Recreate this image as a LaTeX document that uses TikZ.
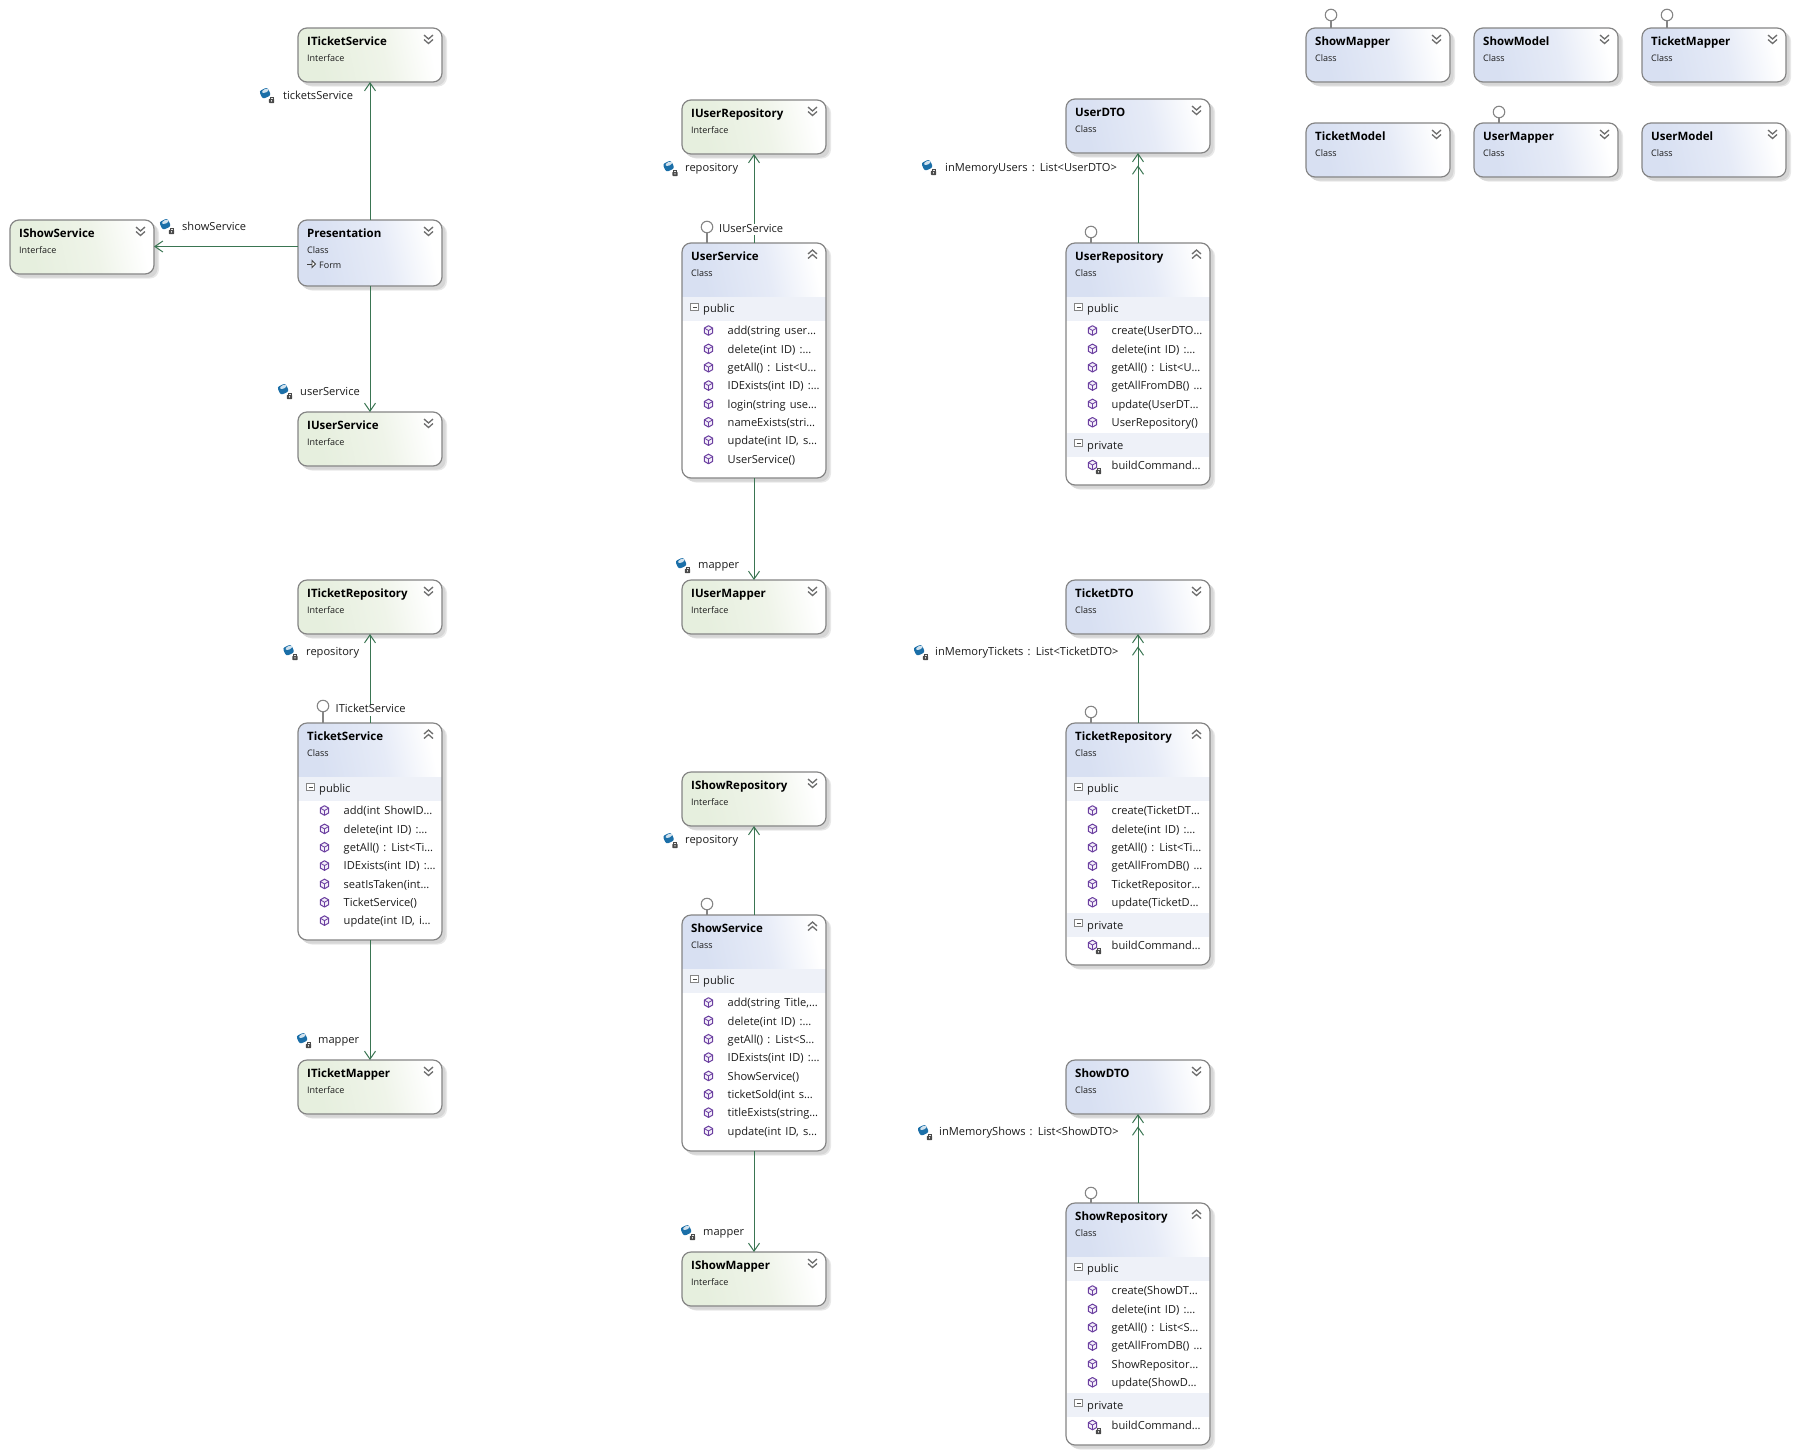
\documentclass[tikz,border=0pt]{standalone}
\usepackage{fontspec}
\setmainfont[WordSpace=1.45]{Open Sans}
\usetikzlibrary{arrows.meta,calc}
\definecolor{assoccol}{HTML}{3A7552}
\definecolor{edgecol}{HTML}{858585}
\definecolor{shadowcol}{HTML}{D6D6D6}
\definecolor{shadowcolb}{HTML}{E8E8E8}
\definecolor{bandcol}{HTML}{EEF1F8}
\definecolor{methodcol}{HTML}{6B3FA0}
\definecolor{methodfill}{HTML}{F3EEF9}
\definecolor{cubecol}{HTML}{1B6FA8}
\definecolor{lockcol}{HTML}{4A4A4A}
\definecolor{chevcol}{HTML}{6E6E6E}
\definecolor{txtcol}{HTML}{1C1C1C}
\definecolor{blueA}{HTML}{D8E0F2}
\definecolor{blueB}{HTML}{E6EBF7}
\definecolor{greenA}{HTML}{E6EFDE}
\definecolor{greenB}{HTML}{EFF4E9}
\pgfdeclarehorizontalshading{bluegrad}{100bp}{color(0bp)=(blueA); color(30bp)=(blueA); color(55bp)=(blueB); color(74bp)=(white); color(100bp)=(white)}
\pgfdeclarehorizontalshading{greengrad}{100bp}{color(0bp)=(greenA); color(30bp)=(greenA); color(55bp)=(greenB); color(74bp)=(white); color(100bp)=(white)}
\tikzset{
  umlbox/.style={draw=edgecol,line width=1.2pt,rounded corners=9pt,minimum width=144pt,inner sep=0pt,outer sep=0pt,anchor=north west},
  umltext/.style={inner sep=0pt,anchor=west,text height=8pt,text depth=2.5pt,text=txtcol},
  umltitle/.style={umltext,text=black,font=\fontsize{11.5}{14}\selectfont\bfseries},
  umlsub/.style={umltext,font=\fontsize{9}{10}\selectfont},
  umlmember/.style={umltext,font=\fontsize{11.1}{12}\selectfont},
  umllabel/.style={umltext,fill=white,text depth=3pt,font=\fontsize{11.1}{12}\selectfont},
  lolli/.style={circle,draw=edgecol,fill=white,line width=1.1pt,minimum size=11.5pt,inner sep=0pt,outer sep=0pt},
  stem/.style={draw=edgecol,line width=1.2pt},
  assoc/.style={draw=assoccol,line width=1pt,-{Straight Barb[length=8pt,width=11pt,line width=1pt]}},
  assocmany/.style={draw=assoccol,line width=1pt,-{Straight Barb[length=8pt,width=11pt,line width=1pt,sep=3pt] Straight Barb[length=8pt,width=11pt,line width=1pt]}},
  chev/.style={draw=chevcol,line width=1.3pt,line join=miter},
}
% chevrons
\newcommand\chevdown[2]{%
  \draw[chev] ({#1-4.5},{#2+7}) -- (#1,{#2+11}) -- ({#1+4.5},{#2+7});
  \draw[chev] ({#1-4.5},{#2+11.5}) -- (#1,{#2+15.5}) -- ({#1+4.5},{#2+11.5});}
\newcommand\chevup[2]{%
  \draw[chev] ({#1-4.5},{#2+11}) -- (#1,{#2+7}) -- ({#1+4.5},{#2+11});
  \draw[chev] ({#1-4.5},{#2+15.5}) -- (#1,{#2+11.5}) -- ({#1+4.5},{#2+15.5});}
% base of any box: shadow + fill
\newcommand\umlbase[4]{% x y h shading
  \fill[shadowcolb,rounded corners=9pt] ({#1+5},{#2+4}) rectangle ({#1+144+5},{#2+#3+4.5});
  \fill[shadowcol,rounded corners=9pt] ({#1+3},{#2+3}) rectangle ({#1+144+3.5},{#2+#3+3.5});
  \fill[white,rounded corners=9pt] (#1,#2) rectangle ({#1+144},{#2+#3});}
% collapsed: id x y h shading title subtitle
\newcommand\umlcollapsed[7]{%
  \umlbase{#2}{#3}{#4}{#5}
  \begin{scope}
    \clip[rounded corners=9pt] (#2,#3) rectangle ({#2+144},{#3+#4});
    \shade[shading=#5,shading angle=12] (#2,#3) rectangle ({#2+144},{#3+#4});
  \end{scope}
  \node[umlbox,minimum height=#4 pt] (#1) at (#2,#3) {};
  \node[umltitle] (#1-t) at ({#2+9},{#3+15}) {#6};
  \node[umlsub] (#1-s) at ({#2+9},{#3+30.3}) {#7};
  \chevdown{#2+130.5}{#3}}
% expanded with public only / + private: id x y h title pubmembers privmembers(or empty)
\newcommand\minusbox[2]{%
  \draw[edgecol,fill=white,line width=.9pt] ({#1-3.6},{#2-3.6}) rectangle ({#1+3.6},{#2+3.6});
  \draw[black!70,line width=1pt] ({#1-2},#2) -- ({#1+2},#2);}
\newcommand\methodicon[2]{%
  \draw[methodcol,fill=methodfill,line width=1pt,line join=round]
    ({#1},{#2-4.8}) -- ({#1+4.2},{#2-2.4}) -- ({#1+4.2},{#2+2.4}) -- ({#1},{#2+4.8}) -- ({#1-4.2},{#2+2.4}) -- ({#1-4.2},{#2-2.4}) -- cycle;
  \draw[methodcol,line width=.8pt] ({#1-4.2},{#2-2.4}) -- (#1,#2) -- ({#1+4.2},{#2-2.4}) (#1,#2) -- (#1,{#2+4.8});}
\newcommand\lockicon[2]{%
  \fill[lockcol,rounded corners=.6pt] ({#1-2.6},{#2-1.2}) rectangle ({#1+2.6},{#2+3});
  \draw[lockcol,line width=.9pt] ({#1-1.5},{#2-1}) -- ({#1-1.5},{#2-2.6}) -- ({#1+1.5},{#2-2.6}) -- ({#1+1.5},{#2-1});
  \fill[white] (#1,{#2+.9}) circle (.7pt);}
\newcommand\cubeicon[2]{%
  \fill[cubecol,rounded corners=2.4pt,rotate around={25:(#1,#2)}] ({#1-4.6},{#2-4.2}) rectangle ({#1+4.6},{#2+4.6});
  \fill[white!80!cubecol,rotate around={25:({#1+.4},{#2-2.2})}] ({#1+.4},{#2-2.2}) ellipse (3.6pt and 1.7pt);
  \lockicon{#1+6.5}{#2+7}}
\newcommand\umlexpanded[7]{%
  \umlbase{#2}{#3}{#4}{bluegrad}
  \begin{scope}
    \clip[rounded corners=9pt] (#2,#3) rectangle ({#2+144},{#3+#4});
    \shade[shading=bluegrad,shading angle=12] (#2,#3) rectangle ({#2+144},{#3+54});
    \fill[bandcol] (#2,{#3+54}) rectangle ({#2+144},{#3+78});
  \end{scope}
  \node[umlbox,minimum height=#4 pt] (#1) at (#2,#3) {};
  \node[umltitle] (#1-t) at ({#2+9},{#3+15}) {#5};
  \node[umlsub] (#1-s) at ({#2+9},{#3+30.3}) {Class};
  \chevup{#2+130.5}{#3}
  \minusbox{#2+12.5}{#3+64}
  \node[umlmember] (#1-pub) at ({#2+21},{#3+67.2}) {public};
  \foreach \m [count=\i, evaluate=\i as \yy using {#3+89+18.35*(\i-1)}] in {#6} {
    \methodicon{#2+26.5}{\yy-1.5}
    \node[umlmember] (#1-m\i) at ({#2+45.5},\yy) {\m};
  }
  #7}
\newcommand\umlprivate[4]{% id x y name(member)
  \begin{scope}
    \fill[bandcol] ({#2+.6},{#3+190}) rectangle ({#2+143.4},{#3+214});
  \end{scope}
  \minusbox{#2+12.5}{#3+200}
  \node[umlmember] (#1-priv) at ({#2+21},{#3+203.5}) {private};
  \methodicon{#2+26.5}{#3+222}
  \lockicon{#2+32.5}{#3+228}
  \node[umlmember] (#1-pm) at ({#2+45.5},{#3+224}) {#4};}
\newcommand\fieldlabel[6]{% id iconx icony textx texty text
  \cubeicon{#2}{#3}
  \node[umllabel] (#1) at (#4,{#5+1.3}) {#6};}
\newcommand\lollipop[4]{% id x y box
  \node[lolli] (#1) at (#2,#3) {};
  \draw[stem] (#1.south) -- (#1.south |- #4.north);}
\begin{document}
\begin{tikzpicture}[x=1pt,y=-1pt]
\useasboundingbox (0,0) rectangle (1795,1454);
\fill[white] (0,0) rectangle (1795,1454);

% top right classes
\umlcollapsed{ShowMapper}{1306}{28}{54}{bluegrad}{ShowMapper}{Class}
\umlcollapsed{ShowModel}{1474}{28}{54}{bluegrad}{ShowModel}{Class}
\umlcollapsed{TicketMapper}{1642}{28}{54}{bluegrad}{TicketMapper}{Class}
\umlcollapsed{TicketModel}{1306}{123}{54}{bluegrad}{TicketModel}{Class}
\umlcollapsed{UserMapper}{1474}{123}{54}{bluegrad}{UserMapper}{Class}
\umlcollapsed{UserModel}{1642}{123}{54}{bluegrad}{UserModel}{Class}

% first column
\umlcollapsed{ITicketService}{298}{28}{54}{greengrad}{ITicketService}{Interface}
\umlcollapsed{IShowService}{10}{220}{54}{greengrad}{IShowService}{Interface}
\umlcollapsed{Presentation}{298}{220}{66}{bluegrad}{Presentation}{Class}
\draw[black!75,line width=.9pt] (307,264) -- (313,264);
\draw[black!75,line width=.9pt,fill=white] (312,260.5) -- (315.5,264) -- (312,267.5) -- cycle;
\node[umlsub] (Presentation-f) at (319,265.5) {Form};
\umlcollapsed{IUserService}{298}{412}{54}{greengrad}{IUserService}{Interface}
\umlcollapsed{ITicketRepository}{298}{580}{54}{greengrad}{ITicketRepository}{Interface}
\umlexpanded{TicketService}{298}{723}{217}{TicketService}{add(int ShowID…,delete(int ID) :…,getAll() : List<Ti…,IDExists(int ID) :…,seatIsTaken(int…,TicketService(),{update(int ID, i…}}{}
\umlcollapsed{ITicketMapper}{298}{1060}{54}{greengrad}{ITicketMapper}{Interface}

% second column
\umlcollapsed{IUserRepository}{682}{100}{54}{greengrad}{IUserRepository}{Interface}
\umlexpanded{UserService}{682}{243}{235}{UserService}{add(string user…,delete(int ID) :…,getAll() : List<U…,IDExists(int ID) :…,login(string use…,nameExists(stri…,{update(int ID, s…},UserService()}{}
\umlcollapsed{IUserMapper}{682}{580}{54}{greengrad}{IUserMapper}{Interface}
\umlcollapsed{IShowRepository}{682}{772}{54}{greengrad}{IShowRepository}{Interface}
\umlexpanded{ShowService}{682}{915}{236}{ShowService}{{add(string Title,…},delete(int ID) :…,getAll() : List<S…,IDExists(int ID) :…,ShowService(),ticketSold(int s…,titleExists(string…,{update(int ID, s…}}{}
\umlcollapsed{IShowMapper}{682}{1252}{54}{greengrad}{IShowMapper}{Interface}

% third column
\umlcollapsed{UserDTO}{1066}{99}{54}{bluegrad}{UserDTO}{Class}
\umlexpanded{UserRepository}{1066}{243}{242}{UserRepository}{create(UserDTO…,delete(int ID) :…,getAll() : List<U…,getAllFromDB() …,update(UserDT…,UserRepository()}{\umlprivate{UserRepository}{1066}{243}{buildCommand…}}
\umlcollapsed{TicketDTO}{1066}{580}{54}{bluegrad}{TicketDTO}{Class}
\umlexpanded{TicketRepository}{1066}{723}{242}{TicketRepository}{create(TicketDT…,delete(int ID) :…,getAll() : List<Ti…,getAllFromDB() …,TicketRepositor…,update(TicketD…}{\umlprivate{TicketRepository}{1066}{723}{buildCommand…}}
\umlcollapsed{ShowDTO}{1066}{1060}{54}{bluegrad}{ShowDTO}{Class}
\umlexpanded{ShowRepository}{1066}{1203}{242}{ShowRepository}{create(ShowDT…,delete(int ID) :…,getAll() : List<S…,getAllFromDB() …,ShowRepositor…,update(ShowD…}{\umlprivate{ShowRepository}{1066}{1203}{buildCommand…}}

% connectors
\draw[assoc] (Presentation.north) -- (ITicketService.south);
\draw[assoc] ([yshift=.5pt]Presentation.west |- IShowService.center) -- ([yshift=.5pt]IShowService.east);
\draw[assoc] (Presentation.south) -- (IUserService.north);
\draw[assoc] (UserService.north) -- (IUserRepository.south);
\draw[assoc] (UserService.south) -- (IUserMapper.north);
\draw[assoc] (TicketService.north) -- (ITicketRepository.south);
\draw[assoc] (TicketService.south) -- (ITicketMapper.north);
\draw[assoc] (ShowService.north) -- (IShowRepository.south);
\draw[assoc] (ShowService.south) -- (IShowMapper.north);
\draw[assocmany] (UserRepository.north) -- (UserDTO.south);
\draw[assocmany] (TicketRepository.north) -- (TicketDTO.south);
\draw[assocmany] (ShowRepository.north) -- (ShowDTO.south);

% field labels
\fieldlabel{ticketsServiceLbl}{265}{93}{283}{96}{ticketsService}
\fieldlabel{showServiceLbl}{165}{224}{182}{227}{showService}
\fieldlabel{userServiceLbl}{283}{389}{300}{392}{userService}
\fieldlabel{userRepoLbl}{668.5}{166}{685}{168}{repository}
\fieldlabel{userMapperLbl}{681}{563}{698}{565}{mapper}
\fieldlabel{ticketRepoLbl}{288.5}{650}{306}{652}{repository}
\fieldlabel{ticketMapperLbl}{302}{1038}{318}{1040}{mapper}
\fieldlabel{showRepoLbl}{668.5}{838}{685}{840}{repository}
\fieldlabel{showMapperLbl}{686}{1230}{703}{1232}{mapper}
\fieldlabel{memUsersLbl}{927}{165}{945}{168}{inMemoryUsers : List<UserDTO>}
\fieldlabel{memTicketsLbl}{919}{650}{935}{652}{inMemoryTickets : List<TicketDTO>}
\fieldlabel{memShowsLbl}{923}{1130}{939}{1132}{inMemoryShows : List<ShowDTO>}

% interface lollipops
\lollipop{lpShowMapper}{1331}{15}{ShowMapper}
\lollipop{lpUserMapper}{1499}{112}{UserMapper}
\lollipop{lpTicketMapper}{1667}{15}{TicketMapper}
\lollipop{lpUserService}{707}{227}{UserService}
\lollipop{lpUserRepo}{1091}{232}{UserRepository}
\lollipop{lpTicketService}{323}{706}{TicketService}
\lollipop{lpTicketRepo}{1091}{712}{TicketRepository}
\lollipop{lpShowService}{707}{904}{ShowService}
\lollipop{lpShowRepo}{1091}{1193}{ShowRepository}
\node[umllabel] (IUserServiceLbl) at (719,229.5) {IUserService};
\node[umllabel] (ITicketServiceLbl) at (335.5,710) {ITicketService};
\end{tikzpicture}
\end{document}
